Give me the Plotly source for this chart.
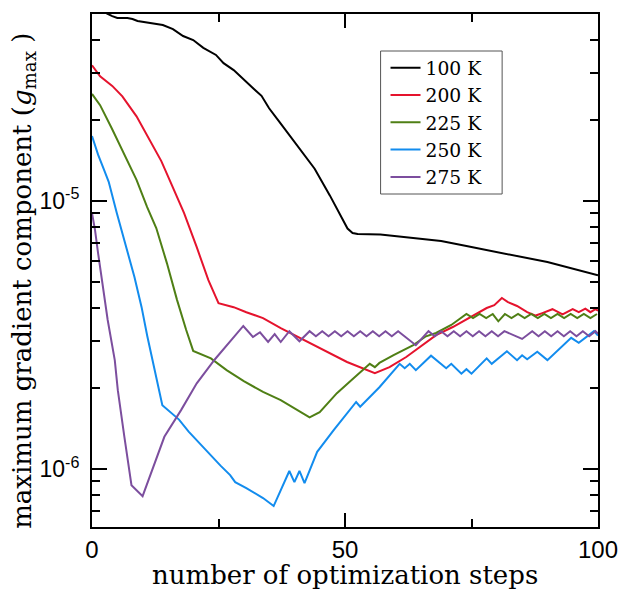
import plotly.graph_objects as go

# ---------------- data ----------------
steps_100 = [0, 2, 3, 4, 5, 7, 8, 9, 12, 14, 16, 18, 20, 22, 24.5, 26, 28, 30, 32, 33.5, 35,
             37, 39, 41.5, 44, 47, 49, 50.5, 51.5, 52.5, 57, 60, 65, 69, 74, 81, 90, 100]
g_100 = [5.6e-5, 5.2e-5, 5.0e-5, 4.9e-5, 4.82e-5, 4.82e-5, 4.78e-5, 4.70e-5, 4.62e-5, 4.54e-5,
         4.38e-5, 4.13e-5, 3.99e-5, 3.73e-5, 3.51e-5, 3.27e-5, 3.08e-5, 2.83e-5, 2.62e-5, 2.47e-5,
         2.22e-5, 1.98e-5, 1.76e-5, 1.53e-5, 1.32e-5, 1.05e-5, 8.94e-6, 7.9e-6, 7.6e-6, 7.53e-6,
         7.5e-6, 7.40e-6, 7.25e-6, 7.09e-6, 6.80e-6, 6.40e-6, 5.92e-6, 5.29e-6]

steps_200 = [0, 1.6, 4, 6, 8.8, 11, 13.7, 15.5, 18.2, 20.7, 23, 25, 28, 30.5, 33.8, 37.3, 43.9,
             50.4, 55.9, 58.8, 62.1, 66, 68, 71.3, 74.8, 78, 79.5, 81, 82.2, 84, 86, 87.7, 89,
             91, 93, 95, 96.2, 97.5, 98.5, 99.5, 100]
g_200 = [3.21e-5, 2.92e-5, 2.69e-5, 2.46e-5, 2.07e-5, 1.75e-5, 1.41e-5, 1.18e-5, 9.02e-6, 6.73e-6,
         5.07e-6, 4.16e-6, 4.02e-6, 3.85e-6, 3.66e-6, 3.36e-6, 2.90e-6, 2.51e-6, 2.28e-6, 2.40e-6,
         2.62e-6, 2.98e-6, 3.16e-6, 3.39e-6, 3.69e-6, 3.99e-6, 4.09e-6, 4.35e-6, 4.20e-6, 4.06e-6,
         3.85e-6, 3.74e-6, 3.82e-6, 3.95e-6, 3.78e-6, 3.95e-6, 3.85e-6, 3.97e-6, 3.85e-6, 3.95e-6,
         3.90e-6]

steps_225 = [0, 1.6, 3.9, 6.4, 8.8, 10.9, 12.7, 14.8, 16.8, 18.6, 20, 23.5, 26.6, 30, 33.8, 37.3,
             43, 45, 48.4, 51.8, 54.9, 55.9, 56.8, 59.6, 63.5, 66, 68, 71, 74, 75.3, 76.6, 77.9,
             79.2, 80.3, 81.6, 82.9, 84.2, 85.5, 86.8, 88.1, 89.4, 90.7, 92, 93.3, 94.6, 95.9,
             97.2, 98.5, 99.8]
g_225 = [2.51e-5, 2.28e-5, 1.87e-5, 1.49e-5, 1.20e-5, 9.50e-6, 7.93e-6, 5.87e-6, 4.28e-6, 3.31e-6,
         2.76e-6, 2.59e-6, 2.34e-6, 2.13e-6, 1.94e-6, 1.81e-6, 1.56e-6, 1.63e-6, 1.92e-6, 2.19e-6,
         2.47e-6, 2.40e-6, 2.49e-6, 2.66e-6, 2.90e-6, 3.13e-6, 3.22e-6, 3.45e-6, 3.79e-6, 3.66e-6,
         3.79e-6, 3.66e-6, 3.79e-6, 3.56e-6, 3.79e-6, 3.66e-6, 3.79e-6, 3.66e-6, 3.79e-6, 3.66e-6,
         3.79e-6, 3.66e-6, 3.79e-6, 3.66e-6, 3.79e-6, 3.66e-6, 3.79e-6, 3.66e-6, 3.79e-6]

steps_250 = [0, 1.2, 2.5, 3.3, 4.9, 6.8, 8.4, 9.8, 10.9, 13.9, 16.2, 17.2, 19.1, 21.5, 23.4, 25.4,
             27.3, 28.3, 30.5, 33.8, 35.9, 39, 40, 41, 42, 44.5, 47.8, 50.4, 52.2, 53, 56.8, 60.8,
             61.8, 62.8, 64, 67, 70, 71, 73, 74, 75, 78, 79, 82, 84, 85, 86, 88, 90, 94.7, 96.2,
             99.2, 100]
g_250 = [1.75e-5, 1.49e-5, 1.29e-5, 1.18e-5, 9.02e-6, 6.73e-6, 5.20e-6, 4.02e-6, 3.15e-6, 1.73e-6,
         1.59e-6, 1.53e-6, 1.38e-6, 1.23e-6, 1.13e-6, 1.03e-6, 9.5e-7, 8.94e-7, 8.49e-7, 7.80e-7,
         7.28e-7, 9.84e-7, 8.94e-7, 9.84e-7, 8.87e-7, 1.16e-6, 1.40e-6, 1.62e-6, 1.78e-6, 1.71e-6,
         2.02e-6, 2.47e-6, 2.38e-6, 2.47e-6, 2.34e-6, 2.65e-6, 2.38e-6, 2.47e-6, 2.27e-6, 2.36e-6,
         2.27e-6, 2.59e-6, 2.47e-6, 2.75e-6, 2.55e-6, 2.66e-6, 2.57e-6, 2.74e-6, 2.55e-6, 3.09e-6,
         2.96e-6, 3.27e-6, 3.15e-6]

steps_275 = [0, 0.6, 1.2, 2.1, 3.1, 4.5, 5.1, 6.4, 7.8, 10, 12.3, 14.3, 17.6, 20.7, 24.3, 27.5,
             29.9, 31.8, 33.2, 34.8, 36.1, 37.3, 39, 41, 43, 44.25, 45.5, 46.75, 48, 49.25, 50.5,
             51.75, 53, 54.25, 55.5, 56.75, 58, 59.25, 60.5, 64, 66.5, 67.75, 69, 70.25, 71.5,
             72.75, 74, 75.25, 76.5, 77.75, 79, 80.25, 81.5, 85, 87, 88.25, 89.5, 90.75, 92,
             93.25, 94.5, 95.75, 97, 98.25, 99.5, 100]
g_275 = [9.02e-6, 7.79e-6, 6.40e-6, 4.78e-6, 3.60e-6, 2.55e-6, 1.97e-6, 1.32e-6, 8.71e-7, 7.93e-7,
         1.05e-6, 1.32e-6, 1.66e-6, 2.09e-6, 2.57e-6, 3.03e-6, 3.42e-6, 3.11e-6, 3.24e-6, 2.98e-6,
         3.19e-6, 2.98e-6, 3.27e-6, 3.00e-6, 3.27e-6, 3.13e-6, 3.27e-6, 3.13e-6, 3.27e-6, 3.13e-6,
         3.27e-6, 3.13e-6, 3.27e-6, 3.13e-6, 3.27e-6, 3.13e-6, 3.27e-6, 3.13e-6, 3.27e-6, 2.90e-6,
         3.27e-6, 3.13e-6, 3.27e-6, 3.13e-6, 3.27e-6, 3.13e-6, 3.27e-6, 3.13e-6, 3.27e-6, 3.13e-6,
         3.27e-6, 3.13e-6, 3.27e-6, 3.06e-6, 3.27e-6, 3.13e-6, 3.27e-6, 3.13e-6, 3.27e-6, 3.13e-6,
         3.27e-6, 3.13e-6, 3.27e-6, 3.13e-6, 3.27e-6, 3.20e-6]

series_names = ["100 K", "200 K", "225 K", "250 K", "275 K"]
series_colors = ["#000000", "#E5132D", "#4F7F15", "#128CEE", "#7C4E9E"]
series_steps = [steps_100, steps_200, steps_225, steps_250, steps_275]
series_vals = [g_100, g_200, g_225, g_250, g_275]

x_major = [0, 50, 100]
x_minor = [25, 75]
y_major = [1e-6, 1e-5]
y_major_text = ["10<sup>-6</sup>", "10<sup>-5</sup>"]
y_minor = [m * 10.0 ** e for e in (-7, -6, -5) for m in range(2, 10)]

# ---------------- figure ----------------
fig = go.Figure()
for name, col, xs, ys in zip(series_names, series_colors, series_steps, series_vals):
    fig.add_trace(go.Scatter(x=xs, y=ys, mode="lines", name=name,
                             line=dict(color=col, width=2)))

L, R, T, B = 92, 26, 14, 63
PX0, PX1, PY0, PY1 = L, 630 - R, T, 590 - B   # plot-area pixel bounds
PW, PH = PX1 - PX0, PY1 - PY0
fig.update_layout(
    width=630, height=590, autosize=False,
    margin=dict(l=L, r=R, t=T, b=B, pad=0),
    paper_bgcolor="white", plot_bgcolor="white",
    showlegend=True,
    legend=dict(x=(389 - PX0) / PW, y=(PY1 - 49) / PH, xanchor="left", yanchor="top",
                bgcolor="rgba(0,0,0,0)", borderwidth=0,
                font=dict(family="DejaVu Serif", size=18.7, color="black"),
                itemwidth=30),
)
# legend frame
fig.add_shape(type="rect", xref="paper", yref="paper", layer="below",
              x0=(384 - PX0) / PW, x1=(507 - PX0) / PW,
              y0=(PY1 - 194) / PH, y1=(PY1 - 51) / PH,
              line=dict(color="#555555", width=1), fillcolor="white")

fig.update_xaxes(
    range=[0, 100], showgrid=False, zeroline=False,
    showline=True, linecolor="black", linewidth=2, mirror="ticks",
    ticks="inside", ticklen=14, tickwidth=2, tickcolor="black",
    tickvals=x_major, ticktext=[str(v) for v in x_major],
    tickfont=dict(family="Liberation Sans", size=24, color="black"),
    ticklabelstandoff=0,
    minor=dict(tickvals=x_minor, ticks="inside", ticklen=8, tickwidth=2, tickcolor="black"),
)
fig.update_yaxes(
    type="log", range=[-6.216, -4.302], showgrid=False, zeroline=False,
    showline=True, linecolor="black", linewidth=2, mirror="ticks",
    ticks="inside", ticklen=15, tickwidth=2, tickcolor="black",
    tickvals=y_major, ticktext=y_major_text,
    tickfont=dict(family="Liberation Sans", size=23, color="black"),
    ticklabelstandoff=6,
    minor=dict(tickvals=y_minor, ticks="inside", ticklen=8, tickwidth=2, tickcolor="black"),
)

fig.add_annotation(text="number of optimization steps", xref="paper", yref="paper",
                   x=(348 - PX0) / PW, y=(PY1 - 575) / PH, xanchor="center", yanchor="middle",
                   showarrow=False, font=dict(family="DejaVu Serif", size=26, color="black"))
fig.add_annotation(text="maximum gradient component (<i>g</i><sub>max</sub> )",
                   xref="paper", yref="paper",
                   x=(22 - PX0) / PW, y=(PY1 - 281) / PH, xanchor="center", yanchor="middle",
                   textangle=-90, showarrow=False,
                   font=dict(family="DejaVu Serif", size=26, color="black"))

fig.write_html("out.html")
